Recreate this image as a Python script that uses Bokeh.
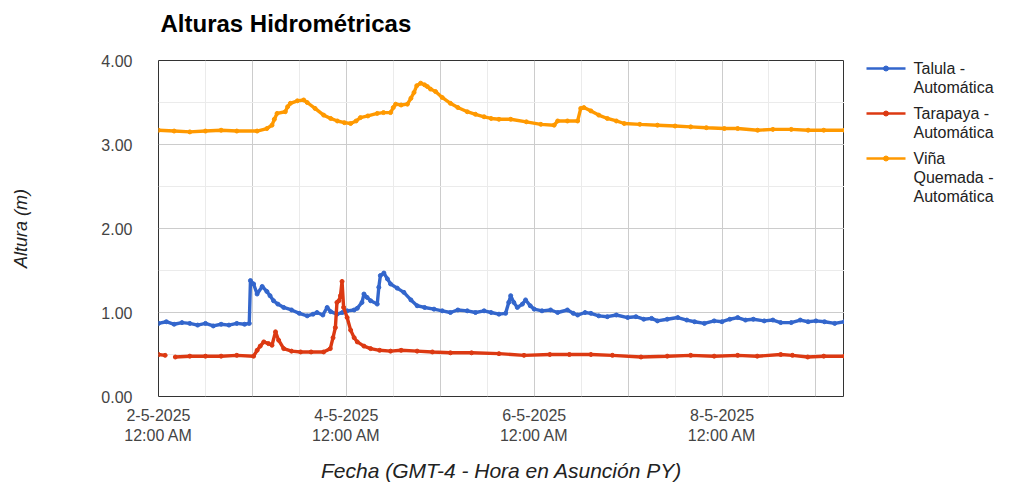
import pandas as pd
from bokeh.plotting import figure
from bokeh.layouts import row, column
from bokeh.models import FixedTicker, NumeralTickFormatter, Range1d
from bokeh.core.properties import value
from bokeh.embed import file_html
from bokeh.resources import INLINE

NAN = float("nan")

chart_title = "Alturas Hidrométricas"
x_label = "Fecha (GMT-4 - Hora en Asunción PY)"
y_label = "Altura (m)"
start_date = "2025-05-02 00:00"
end_hour = 175.3

x_tick_days = [0, 2, 4, 6]
x_tick_labels = ["2-5-2025\n12:00 AM", "4-5-2025\n12:00 AM", "6-5-2025\n12:00 AM", "8-5-2025\n12:00 AM"]
y_ticks = [0, 1, 2, 3, 4]

series_names = ["Talula -\nAutomática", "Tarapaya -\nAutomática", "Viña\nQuemada -\nAutomática"]
series_colors = ["#3366cc", "#dc3912", "#ff9900"]

# hours since 2-5-2025 00:00
talula_hours = [0, 2, 4, 6, 8, 10, 12, 14, 16, 18, 20, 22, 23.2, 23.5, 24.3, 25.2, 26.5, 27.7, 28.5, 29.4,
                30.5, 32, 34, 36, 38, 39.5, 40.5, 42, 43.1, 44, 45.6, 47, 48.2, 50, 50.8, 52, 52.5, 53.3,
                54.2, 55.9, 56.3, 56.7, 57.6, 58.5, 59.3, 61, 62.7, 64.5, 66.1, 68, 70.4, 72.5, 74.6, 76.5,
                78.9, 81, 83.2, 85, 87, 88.7, 89.5, 90, 90.8, 91.7, 93, 93.8, 95, 96, 98, 100.2, 102, 104.5,
                106, 107.1, 109, 110.5, 112.5, 114.7, 117, 119.9, 122, 124, 126, 127.5, 130, 132.7, 135, 137,
                139.5, 142, 144, 146, 148, 150, 152, 154.8, 157, 159, 161.7, 164, 166, 168, 170.2, 172.8, 175.3]
talula_vals = [0.87, 0.89, 0.86, 0.88, 0.87, 0.85, 0.87, 0.84, 0.86, 0.85, 0.87, 0.86, 0.87, 1.38, 1.34, 1.22, 1.31, 1.25, 1.20, 1.14,
               1.10, 1.06, 1.03, 0.99, 0.96, 0.98, 1.00, 0.97, 1.06, 1.01, 0.98, 1.00, 1.02, 1.03, 1.05, 1.12, 1.22, 1.18,
               1.14, 1.10, 1.30, 1.44, 1.47, 1.40, 1.34, 1.29, 1.24, 1.15, 1.08, 1.06, 1.04, 1.02, 1.00, 1.03,
               1.02, 1.00, 1.02, 1.00, 0.98, 0.99, 1.12, 1.20, 1.12, 1.06, 1.10, 1.15, 1.08, 1.04, 1.02, 1.03, 1.00, 1.03,
               0.99, 0.97, 1.00, 0.99, 0.96, 0.95, 0.97, 0.94, 0.95, 0.92, 0.93, 0.90, 0.92, 0.94, 0.91, 0.89,
               0.87, 0.90, 0.89, 0.92, 0.94, 0.91, 0.92, 0.90, 0.91, 0.88, 0.88, 0.91, 0.89, 0.90, 0.89, 0.87, 0.89]

tarapaya_hours = [0, 1.7, 3, 4.3, 8, 12, 16, 20, 24.3, 25.2, 26, 26.9, 28.1, 29, 29.9, 30.7, 32, 34, 36.3, 39,
                  42.2, 43.9, 44.6, 45.2, 45.6, 46.1, 46.5, 46.9, 47.3, 48.2, 49.1, 50, 50.8, 52.5, 54.2, 56.5,
                  59.3, 62, 66.1, 70, 74.6, 80, 87, 93.4, 100, 105, 110.5, 116, 123.3, 130, 136, 142, 148, 153,
                  159, 162, 165.9, 170, 175.3]
tarapaya_vals = [0.50, 0.49, NAN, 0.47, 0.48, 0.48, 0.48, 0.49, 0.48, 0.55, 0.60, 0.65, 0.63, 0.61, 0.77, 0.67, 0.57, 0.54, 0.53, 0.53,
                 0.53, 0.57, 0.70, 0.82, 1.12, 1.14, 1.20, 1.37, 1.06, 0.94, 0.79, 0.70, 0.65, 0.60, 0.57, 0.55,
                 0.54, 0.55, 0.54, 0.53, 0.52, 0.52, 0.51, 0.49, 0.50, 0.50, 0.50, 0.49, 0.47, 0.48, 0.49, 0.48, 0.49, 0.48,
                 0.50, 0.49, 0.47, 0.48, 0.48]

vina_hours = [0, 4, 8, 12, 16, 20, 25.2, 27.7, 29, 29.6, 30.3, 32.4, 33, 33.7, 35.5, 37.1, 38, 40, 42.2, 44,
              45.7, 47.5, 49.1, 50.5, 51.6, 53.5, 55.9, 57.5, 59.3, 60, 60.6, 62, 63.6, 64.5, 65.3, 66, 67, 68,
              68.7, 69.5, 70.8, 72.5, 74.6, 76.5, 78.9, 81, 83.2, 85, 87, 90, 94, 97.7, 101.1, 102, 104.5, 107.1,
              107.9, 108.7, 110.5, 112.5, 114.7, 117, 119, 123, 127.5, 132, 136, 140, 144.6, 148, 153.1, 157,
              161.7, 166, 170, 175.3]
vina_vals = [3.17, 3.16, 3.15, 3.16, 3.17, 3.16, 3.16, 3.19, 3.23, 3.30, 3.37, 3.39, 3.45, 3.49, 3.52, 3.53, 3.50, 3.43, 3.35, 3.31,
             3.28, 3.26, 3.25, 3.28, 3.32, 3.34, 3.37, 3.38, 3.38, 3.44, 3.48, 3.47, 3.48, 3.55, 3.62, 3.70, 3.73, 3.71,
             3.69, 3.66, 3.63, 3.56, 3.49, 3.44, 3.39, 3.36, 3.33, 3.31, 3.30, 3.30, 3.27, 3.24, 3.23, 3.28, 3.28, 3.28,
             3.43, 3.44, 3.40, 3.35, 3.31, 3.28, 3.25, 3.24, 3.23, 3.22, 3.21, 3.20, 3.19, 3.19, 3.17, 3.18,
             3.18, 3.17, 3.17, 3.17]

FONT = "Liberation Sans"
start = pd.Timestamp(start_date)

# layout constants (pixels)
LEFT, TOP, BOTTOM = 158, 60, 85
FRAME_W, FRAME_H = 686, 336
TITLE_H = 44
LEG_W = 170


def to_dt(hours):
    return [start + pd.Timedelta(hours=h) for h in hours]


def to_ms(ts):
    return ts.value / 1e6


# ---- title band ----
tf = figure(frame_width=FRAME_W, frame_height=TITLE_H, output_backend="svg", toolbar_location=None,
            min_border_left=LEFT, min_border_right=LEG_W, min_border_top=0, min_border_bottom=0,
            x_range=Range1d(0, FRAME_W), y_range=Range1d(TITLE_H, 0),
            x_axis_location=None, y_axis_location=None, outline_line_color=None,
            background_fill_color="white", border_fill_color="white")
tf.xgrid.visible = False
tf.ygrid.visible = False
tf.text(x=[2], y=[23], text=[chart_title], text_font=value(FONT), text_font_size="24px",
        text_font_style="bold", text_color="#000000", text_baseline="middle", text_align="left")

# ---- main chart ----
p = figure(x_axis_type="datetime", output_backend="svg", toolbar_location=None, title=None,
           frame_width=FRAME_W, frame_height=FRAME_H,
           min_border_left=LEFT, min_border_top=TOP - TITLE_H, min_border_bottom=BOTTOM, min_border_right=0,
           x_range=Range1d(start, start + pd.Timedelta(hours=end_hour)),
           y_range=Range1d(0, 4), background_fill_color="white", border_fill_color="white")

p.outline_line_color = "#333333"
p.outline_line_width = 1

tick_ms = [to_ms(start + pd.Timedelta(days=d)) for d in x_tick_days]
p.xaxis.ticker = FixedTicker(ticks=tick_ms)
p.xaxis.major_label_overrides = {t: lab for t, lab in zip(tick_ms, x_tick_labels)}
day_ms = [to_ms(start + pd.Timedelta(days=d)) for d in range(0, 8)]
noon_ms = [to_ms(start + pd.Timedelta(hours=12 + 24 * d)) for d in range(0, 8)]
p.xgrid.ticker = FixedTicker(ticks=day_ms, minor_ticks=noon_ms)
p.xgrid.grid_line_color = "#cccccc"
p.xgrid.minor_grid_line_color = "#ebebeb"

p.yaxis.ticker = FixedTicker(ticks=y_ticks, minor_ticks=[0.5, 1.5, 2.5, 3.5])
p.yaxis.formatter = NumeralTickFormatter(format="0.00")
p.ygrid.grid_line_color = "#cccccc"
p.ygrid.minor_grid_line_color = "#ebebeb"

for ax in (p.xaxis[0], p.yaxis[0]):
    ax.axis_line_color = None
    ax.major_tick_line_color = None
    ax.minor_tick_line_color = None
    ax.major_tick_out = 0
    ax.major_tick_in = 0
    ax.major_label_text_font = FONT
    ax.major_label_text_font_size = "16px"
    ax.major_label_text_color = "#444444"
    ax.axis_label_text_font = FONT
    ax.axis_label_text_font_style = "italic"
    ax.axis_label_text_color = "#222222"

p.xaxis.axis_label = x_label
p.xaxis.axis_label_text_font_size = "21px"
p.xaxis.major_label_standoff = 10
p.xaxis.axis_label_standoff = 12
p.yaxis.axis_label = y_label
p.yaxis.axis_label_text_font_size = "18px"
p.yaxis.major_label_standoff = 22
p.yaxis.axis_label_standoff = 67

for color, hrs, vals in zip(series_colors,
                            [talula_hours, tarapaya_hours, vina_hours],
                            [talula_vals, tarapaya_vals, vina_vals]):
    xs = to_dt(hrs)
    p.line(xs, vals, line_color=color, line_width=3.4)
    p.scatter(xs, vals, marker="circle", size=4, fill_color=color, line_color=color)

# ---- legend panel (frame aligns with chart frame) ----
lg = figure(frame_width=LEG_W, frame_height=FRAME_H, output_backend="svg", toolbar_location=None,
            min_border_left=0, min_border_right=0, min_border_top=TOP - TITLE_H, min_border_bottom=BOTTOM,
            x_range=Range1d(0, LEG_W), y_range=Range1d(FRAME_H, 0),
            x_axis_location=None, y_axis_location=None,
            outline_line_color=None, background_fill_color="white", border_fill_color="white")
lg.xgrid.visible = False
lg.ygrid.visible = False

GLYPH_X0, GLYPH_X1, TEXT_X = 22, 61, 69
ITEM_Y0, LINE_H, ITEM_GAP = 8, 19, 26
y = ITEM_Y0
for name, color in zip(series_names, series_colors):
    lines = name.split("\n")
    lg.segment(x0=[GLYPH_X0], y0=[y], x1=[GLYPH_X1], y1=[y], line_color=color, line_width=2.5)
    lg.scatter(x=[(GLYPH_X0 + GLYPH_X1) / 2], y=[y], marker="circle", size=5,
               fill_color=color, line_color=color)
    lg.text(x=[TEXT_X] * len(lines), y=[y + i * LINE_H for i in range(len(lines))], text=lines,
            text_font=value(FONT), text_font_size="16px", text_color="#222222",
            text_baseline="middle", text_align="left")
    y += (len(lines) - 1) * LINE_H + ITEM_GAP

layout = column(tf, row(p, lg, spacing=0), spacing=0)
open("out.html", "w").write(file_html(layout, INLINE))
